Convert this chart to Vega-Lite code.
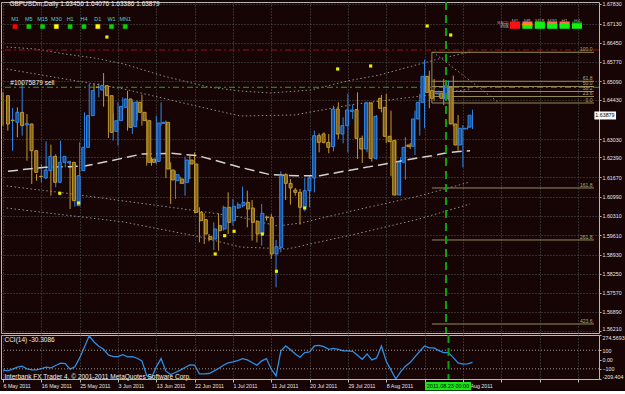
{
"$schema": "https://vega.github.io/schema/vega-lite/v6.json",
"padding": 0,
"background": "#170404",
"spacing": 2,
"bounds": "flush",
"config": {
  "view": {"stroke": "#b8b8b8", "strokeWidth": 1},
  "font": "Liberation Sans, sans-serif",
  "text": {"font": "Liberation Sans, sans-serif", "fontSize": 6.5, "color": "#e6e6e6"}
},
"datasets": {
  "bars": [
    {"i":0,"d":"2011-05-06","o":1.64574,"h":1.64692,"l":1.63508,"c":1.63568,"cci":-114.5},
    {"i":1,"d":"2011-05-08","o":1.63705,"h":1.63804,"l":1.63331,"c":1.63686,"cci":-121.6},
    {"i":2,"d":"2011-05-09","o":1.63627,"h":1.64136,"l":1.6262,"c":1.63982,"cci":-103.8},
    {"i":3,"d":"2011-05-10","o":1.63982,"h":1.6416,"l":1.63094,"c":1.63508,"cci":-82.4},
    {"i":4,"d":"2011-05-11","o":1.63532,"h":1.65048,"l":1.63153,"c":1.63591,"cci":-71.7},
    {"i":5,"d":"2011-05-12","o":1.63568,"h":1.63923,"l":1.62265,"c":1.6262,"cci":-100.2},
    {"i":6,"d":"2011-05-13","o":1.6262,"h":1.63035,"l":1.61437,"c":1.61851,"cci":-110.9},
    {"i":7,"d":"2011-05-15","o":1.6171,"h":1.61792,"l":1.61555,"c":1.61697,"cci":-110.9},
    {"i":8,"d":"2011-05-16","o":1.6165,"h":1.62147,"l":1.61496,"c":1.61934,"cci":-96.7},
    {"i":9,"d":"2011-05-17","o":1.6191,"h":1.62952,"l":1.61614,"c":1.62419,"cci":-82.4},
    {"i":10,"d":"2011-05-18","o":1.62419,"h":1.62834,"l":1.61022,"c":1.61496,"cci":-89.5},
    {"i":11,"d":"2011-05-19","o":1.61496,"h":1.62502,"l":1.61318,"c":1.62206,"cci":-64.6},
    {"i":12,"d":"2011-05-20","o":1.62206,"h":1.62976,"l":1.61579,"c":1.62419,"cci":-39.6},
    {"i":13,"d":"2011-05-22","o":1.62182,"h":1.62241,"l":1.62028,"c":1.6223,"cci":-43.2},
    {"i":14,"d":"2011-05-23","o":1.62206,"h":1.62265,"l":1.60549,"c":1.60845,"cci":-103.8},
    {"i":15,"d":"2011-05-24","o":1.60667,"h":1.6191,"l":1.60631,"c":1.61732,"cci":-78.8},
    {"i":16,"d":"2011-05-25","o":1.6191,"h":1.62916,"l":1.61259,"c":1.62739,"cci":17.4},
    {"i":17,"d":"2011-05-26","o":1.62739,"h":1.63982,"l":1.6268,"c":1.63864,"cci":135.1},
    {"i":18,"d":"2011-05-27","o":1.63864,"h":1.64988,"l":1.63781,"c":1.64752,"cci":255},
    {"i":19,"d":"2011-05-29","o":1.6488,"h":1.65012,"l":1.64728,"c":1.6487,"cci":188.6},
    {"i":20,"d":"2011-05-30","o":1.64775,"h":1.65012,"l":1.64515,"c":1.64929,"cci":142.2},
    {"i":21,"d":"2011-05-31","o":1.64929,"h":1.65379,"l":1.64183,"c":1.64574,"cci":110.1},
    {"i":22,"d":"2011-06-01","o":1.64574,"h":1.6487,"l":1.6307,"c":1.63272,"cci":49.5},
    {"i":23,"d":"2011-06-02","o":1.63307,"h":1.63947,"l":1.62976,"c":1.63686,"cci":31.7},
    {"i":24,"d":"2011-06-03","o":1.63686,"h":1.64337,"l":1.62798,"c":1.64195,"cci":31.7},
    {"i":25,"d":"2011-06-05","o":1.6416,"h":1.64515,"l":1.641,"c":1.64456,"cci":53.1},
    {"i":26,"d":"2011-06-06","o":1.64456,"h":1.64752,"l":1.63331,"c":1.63449,"cci":28.1},
    {"i":27,"d":"2011-06-07","o":1.63473,"h":1.64396,"l":1.63212,"c":1.64337,"cci":31.7},
    {"i":28,"d":"2011-06-08","o":1.64337,"h":1.64396,"l":1.63686,"c":1.63982,"cci":13.9},
    {"i":29,"d":"2011-06-09","o":1.63982,"h":1.6461,"l":1.63508,"c":1.63686,"cci":-14.7},
    {"i":30,"d":"2011-06-10","o":1.63686,"h":1.63745,"l":1.62088,"c":1.62206,"cci":-175.1},
    {"i":31,"d":"2011-06-12","o":1.62324,"h":1.62384,"l":1.62088,"c":1.62206,"cci":-196.5},
    {"i":32,"d":"2011-06-13","o":1.62241,"h":1.63864,"l":1.62147,"c":1.63603,"cci":-78.8},
    {"i":33,"d":"2011-06-14","o":1.63591,"h":1.64337,"l":1.63508,"c":1.63627,"cci":10.3},
    {"i":34,"d":"2011-06-15","o":1.63627,"h":1.63686,"l":1.6165,"c":1.61969,"cci":-125.2},
    {"i":35,"d":"2011-06-16","o":1.61934,"h":1.62206,"l":1.60726,"c":1.61579,"cci":-160.8},
    {"i":36,"d":"2011-06-17","o":1.61555,"h":1.6191,"l":1.60904,"c":1.61768,"cci":-139.4},
    {"i":37,"d":"2011-06-19","o":1.61614,"h":1.61697,"l":1.61437,"c":1.6146,"cci":-114.5},
    {"i":38,"d":"2011-06-20","o":1.61496,"h":1.62407,"l":1.61022,"c":1.62289,"cci":-85.9},
    {"i":39,"d":"2011-06-21","o":1.62289,"h":1.62443,"l":1.61614,"c":1.62147,"cci":-57.4},
    {"i":40,"d":"2011-06-22","o":1.62147,"h":1.62561,"l":1.60395,"c":1.6043,"cci":-61.0},
    {"i":41,"d":"2011-06-23","o":1.6043,"h":1.60608,"l":1.59364,"c":1.60134,"cci":-153.7},
    {"i":42,"d":"2011-06-24","o":1.6017,"h":1.60395,"l":1.59305,"c":1.5966,"cci":-153.7},
    {"i":43,"d":"2011-06-26","o":1.59566,"h":1.5966,"l":1.594,"c":1.59471,"cci":-150.1},
    {"i":44,"d":"2011-06-27","o":1.59483,"h":1.60075,"l":1.59092,"c":1.59838,"cci":-125.2},
    {"i":45,"d":"2011-06-28","o":1.59956,"h":1.60395,"l":1.59068,"c":1.59779,"cci":-96.7},
    {"i":46,"d":"2011-06-29","o":1.59838,"h":1.60667,"l":1.59779,"c":1.60608,"cci":-61.0},
    {"i":47,"d":"2011-06-30","o":1.60608,"h":1.6114,"l":1.5966,"c":1.60075,"cci":-36.0},
    {"i":48,"d":"2011-07-01","o":1.60134,"h":1.60904,"l":1.59956,"c":1.60644,"cci":-25.4},
    {"i":49,"d":"2011-07-03","o":1.60584,"h":1.60785,"l":1.60549,"c":1.60702,"cci":-11.1},
    {"i":50,"d":"2011-07-04","o":1.60667,"h":1.61342,"l":1.60608,"c":1.60785,"cci":10.3},
    {"i":51,"d":"2011-07-05","o":1.60785,"h":1.612,"l":1.59897,"c":1.60549,"cci":-4.0},
    {"i":52,"d":"2011-07-06","o":1.60584,"h":1.60868,"l":1.59424,"c":1.60075,"cci":-32.5},
    {"i":53,"d":"2011-07-07","o":1.6011,"h":1.60134,"l":1.59364,"c":1.5966,"cci":-61.0},
    {"i":54,"d":"2011-07-08","o":1.5966,"h":1.60726,"l":1.59246,"c":1.60395,"cci":-14.7},
    {"i":55,"d":"2011-07-10","o":1.60264,"h":1.60312,"l":1.60134,"c":1.6024,"cci":10.3},
    {"i":56,"d":"2011-07-11","o":1.60252,"h":1.60371,"l":1.58772,"c":1.5895,"cci":-103.8},
    {"i":57,"d":"2011-07-12","o":1.5895,"h":1.59447,"l":1.57766,"c":1.5921,"cci":-175.1},
    {"i":58,"d":"2011-07-13","o":1.59187,"h":1.61886,"l":1.59009,"c":1.61732,"cci":92.3},
    {"i":59,"d":"2011-07-14","o":1.61768,"h":1.61815,"l":1.60868,"c":1.6146,"cci":145.8},
    {"i":60,"d":"2011-07-15","o":1.6146,"h":1.61614,"l":1.60702,"c":1.61294,"cci":106.6},
    {"i":61,"d":"2011-07-17","o":1.61223,"h":1.61294,"l":1.61022,"c":1.6114,"cci":60.2},
    {"i":62,"d":"2011-07-18","o":1.6114,"h":1.61259,"l":1.59992,"c":1.60608,"cci":24.6},
    {"i":63,"d":"2011-07-19","o":1.60608,"h":1.6165,"l":1.60466,"c":1.612,"cci":74.5},
    {"i":64,"d":"2011-07-20","o":1.612,"h":1.6172,"l":1.60608,"c":1.6165,"cci":81.6},
    {"i":65,"d":"2011-07-21","o":1.6165,"h":1.63331,"l":1.6114,"c":1.63153,"cci":145.8},
    {"i":66,"d":"2011-07-22","o":1.63153,"h":1.63236,"l":1.62561,"c":1.62916,"cci":152.9},
    {"i":67,"d":"2011-07-24","o":1.63212,"h":1.63272,"l":1.62881,"c":1.62916,"cci":138.6},
    {"i":68,"d":"2011-07-25","o":1.62916,"h":1.63212,"l":1.62526,"c":1.62739,"cci":110.1},
    {"i":69,"d":"2011-07-26","o":1.62763,"h":1.64219,"l":1.62597,"c":1.641,"cci":120.8},
    {"i":70,"d":"2011-07-27","o":1.641,"h":1.64337,"l":1.63035,"c":1.63212,"cci":110.1},
    {"i":71,"d":"2011-07-28","o":1.63212,"h":1.63804,"l":1.62881,"c":1.63508,"cci":92.3},
    {"i":72,"d":"2011-07-29","o":1.63508,"h":1.64633,"l":1.62561,"c":1.64065,"cci":92.3},
    {"i":73,"d":"2011-07-31","o":1.64018,"h":1.64254,"l":1.63745,"c":1.64065,"cci":88.7},
    {"i":74,"d":"2011-08-01","o":1.64078,"h":1.64693,"l":1.62325,"c":1.63059,"cci":45.9},
    {"i":75,"d":"2011-08-02","o":1.63059,"h":1.63154,"l":1.62183,"c":1.6268,"cci":3.2},
    {"i":76,"d":"2011-08-03","o":1.6268,"h":1.64362,"l":1.62562,"c":1.64314,"cci":60.2},
    {"i":77,"d":"2011-08-04","o":1.64314,"h":1.64338,"l":1.62231,"c":1.62349,"cci":-4.0},
    {"i":78,"d":"2011-08-05","o":1.62349,"h":1.63888,"l":1.62302,"c":1.63841,"cci":17.4},
    {"i":79,"d":"2011-08-07","o":1.6448,"h":1.64598,"l":1.63983,"c":1.64125,"cci":145.8},
    {"i":80,"d":"2011-08-08","o":1.6416,"h":1.64634,"l":1.62893,"c":1.6313,"cci":-18.2},
    {"i":81,"d":"2011-08-09","o":1.6313,"h":1.64042,"l":1.6171,"c":1.62941,"cci":-114.5},
    {"i":82,"d":"2011-08-10","o":1.62976,"h":1.63012,"l":1.61023,"c":1.61047,"cci":-209.4},
    {"i":83,"d":"2011-08-11","o":1.61047,"h":1.62384,"l":1.61023,"c":1.62207,"cci":-132.3},
    {"i":84,"d":"2011-08-12","o":1.62207,"h":1.63095,"l":1.61591,"c":1.6274,"cci":-71.7},
    {"i":85,"d":"2011-08-14","o":1.62822,"h":1.62893,"l":1.6268,"c":1.62763,"cci":-32.5},
    {"i":86,"d":"2011-08-15","o":1.62775,"h":1.64042,"l":1.62467,"c":1.63746,"cci":28.1},
    {"i":87,"d":"2011-08-16","o":1.63746,"h":1.64634,"l":1.63154,"c":1.64338,"cci":88.7},
    {"i":88,"d":"2011-08-17","o":1.64338,"h":1.65854,"l":1.63415,"c":1.65262,"cci":145.8},
    {"i":89,"d":"2011-08-18","o":1.65262,"h":1.65463,"l":1.64125,"c":1.64693,"cci":124.4},
    {"i":90,"d":"2011-08-19","o":1.64752,"h":1.65167,"l":1.64397,"c":1.6448,"cci":124.4},
    {"i":91,"d":"2011-08-21","o":1.6465,"h":1.64752,"l":1.64575,"c":1.6467,"cci":95.9},
    {"i":92,"d":"2011-08-22","o":1.6467,"h":1.65167,"l":1.64243,"c":1.6448,"cci":74.5},
    {"i":93,"d":"2011-08-23","o":1.64456,"h":1.65108,"l":1.64397,"c":1.6493,"cci":74.5},
    {"i":94,"d":"2011-08-24","o":1.64871,"h":1.65285,"l":1.63486,"c":1.63568,"cci":21.0},
    {"i":95,"d":"2011-08-25","o":1.63568,"h":1.63888,"l":1.62621,"c":1.62822,"cci":-36.0},
    {"i":96,"d":"2011-08-26","o":1.62822,"h":1.63533,"l":1.62029,"c":1.63415,"cci":-50.3},
    {"i":97,"d":"2011-08-28","o":1.63391,"h":1.63486,"l":1.63367,"c":1.63415,"cci":-46.7},
    {"i":98,"d":"2011-08-29","o":1.63456,"h":1.64076,"l":1.63386,"c":1.63879,"cci":-30.3086}
  ],
  "ma": [
    {"i":0,"v":1.61892},{"i":7.9,"v":1.6203},{"i":13.2,"v":1.62051},{"i":16.3,"v":1.62076},{"i":20.5,"v":1.62218},{"i":24.6,"v":1.6236},{"i":28.4,"v":1.62502},{"i":34.7,"v":1.62527},{"i":40.3,"v":1.62442},{"i":49.3,"v":1.6203},{"i":55.7,"v":1.61767},{"i":61.4,"v":1.61732},{"i":66.2,"v":1.61732},{"i":72.0,"v":1.61909},{"i":78.9,"v":1.62112},{"i":85.8,"v":1.62325},{"i":90.0,"v":1.62442},{"i":93.5,"v":1.62556},{"i":98.1,"v":1.6262}
  ],
  "env": [
    {"band":"A","i":-0.3,"v":1.66303},{"band":"A","i":5.85,"v":1.66232},{"band":"A","i":12.1,"v":1.66054},{"band":"A","i":18.4,"v":1.65912},{"band":"A","i":24.6,"v":1.65699},{"band":"A","i":33.0,"v":1.65273},{"band":"A","i":42.4,"v":1.64882},{"band":"A","i":49.3,"v":1.6474},{"band":"A","i":55.7,"v":1.64669},{"band":"A","i":64.3,"v":1.64776},{"band":"A","i":72.0,"v":1.65095},{"band":"A","i":78.9,"v":1.65308},{"band":"A","i":85.8,"v":1.65628},{"band":"A","i":91.4,"v":1.65877},{"band":"A","i":98.1,"v":1.66125},
    {"band":"B","i":-0.3,"v":1.65522},{"band":"B","i":12.1,"v":1.65166},{"band":"B","i":24.6,"v":1.64811},{"band":"B","i":37.2,"v":1.64314},{"band":"B","i":49.3,"v":1.63852},{"band":"B","i":60.8,"v":1.63888},{"band":"B","i":73.9,"v":1.64278},{"band":"B","i":89.6,"v":1.64598},{"band":"B","i":98.1,"v":1.64811},
    {"band":"C","i":-0.3,"v":1.61366},{"band":"C","i":12.1,"v":1.61117},{"band":"C","i":24.6,"v":1.60833},{"band":"C","i":37.2,"v":1.60549},{"band":"C","i":49.3,"v":1.60265},{"band":"C","i":57.2,"v":1.59945},{"band":"C","i":62.2,"v":1.60052},{"band":"C","i":73.9,"v":1.60513},{"band":"C","i":87.3,"v":1.61011},{"band":"C","i":98.1,"v":1.61508},
    {"band":"D","i":-0.3,"v":1.60584},{"band":"D","i":12.1,"v":1.60336},{"band":"D","i":24.6,"v":1.60087},{"band":"D","i":40.9,"v":1.59554},{"band":"D","i":49.3,"v":1.59199},{"band":"D","i":59.3,"v":1.59128},{"band":"D","i":73.9,"v":1.59661},{"band":"D","i":87.3,"v":1.60194},{"band":"D","i":98.1,"v":1.60726},
    {"band":"T","i":90.2,"v":1.66125},{"band":"T","i":104,"v":1.64349}
  ],
  "fib": [
    {"lvl":"100.0","v":1.66115},{"lvl":"61.8","v":1.65085},{"lvl":"50.0","v":1.649},{"lvl":"38.2","v":1.64722},{"lvl":"23.6","v":1.64545},{"lvl":"0.0","v":1.64314},{"lvl":"161.8","v":1.61295},{"lvl":"261.8","v":1.59448},{"lvl":"423.6","v":1.56464}
  ],
  "hl": [
    {"name":"order","v":1.64872},{"name":"level","v":1.66197}
  ],
  "sig": [
    {"i":11,"v":1.61107},{"i":15,"v":1.60762},{"i":21,"v":1.66658},{"i":44,"v":1.5895},{"i":46,"v":1.596},{"i":48,"v":1.59757},{"i":54,"v":1.59661},{"i":57,"v":1.58336},{"i":63,"v":1.60584},{"i":70,"v":1.65522},{"i":77,"v":1.65628},{"i":89,"v":1.67049},{"i":94,"v":1.66729}
  ],
  "tf": [
    {"tf":"M1","state":"red"},{"tf":"M5","state":"green"},{"tf":"M15","state":"green"},{"tf":"M30","state":"yellow"},{"tf":"H1","state":"green"},{"tf":"H4","state":"green"},{"tf":"D1","state":"yellow"},{"tf":"W1","state":"green"},{"tf":"MN1","state":"green"}
  ],
  "panel": [
    {"tf":"M1","ind":"MACD","state":"red"},{"tf":"M5","ind":"MACD","state":"salmon"},{"tf":"M15","ind":"MACD","state":"green"},{"tf":"M30","ind":"MACD","state":"salmon"},{"tf":"H1","ind":"MACD","state":"salmon"},{"tf":"H4","ind":"MACD","state":"dkgreen"},
    {"tf":"M1","ind":"STR","state":"red"},{"tf":"M5","ind":"STR","state":"orange"},{"tf":"M15","ind":"STR","state":"green"},{"tf":"M30","ind":"STR","state":"green"},{"tf":"H1","ind":"STR","state":"green"},{"tf":"H4","ind":"STR","state":"green"},
    {"tf":"M1","ind":"EMA","state":"red"},{"tf":"M5","ind":"EMA","state":"green"},{"tf":"M15","ind":"EMA","state":"green"},{"tf":"M30","ind":"EMA","state":"green"},{"tf":"H1","ind":"EMA","state":"green"},{"tf":"H4","ind":"EMA","state":"green"}
  ]
},
"vconcat": [
  {
    "width": 598,
    "height": 331,
    "resolve": {"scale": {"x": "independent", "y": "independent", "fill": "independent", "color": "independent"}},
    "layer": [
      {
        "data": {"name": "bars"},
        "mark": {"type": "rule", "strokeWidth": 1, "clip": true},
        "encoding": {
          "x": {"field": "i", "type": "quantitative", "scale": {"domain": [-0.42, 124.42], "nice": false, "zero": false}, "axis": {"orient": "bottom", "values": [0,8,16,24,32,40,48,56,64,72,80,88,96,104,112,120], "grid": true, "gridColor": "#555555", "gridDash": [1, 2], "domain": false, "labels": false, "ticks": false, "labelPadding": 0, "title": null}},
          "y": {"field": "l", "type": "quantitative", "scale": {"domain": [1.56144, 1.67901], "nice": false, "zero": false}, "axis": {"orient": "right", "values": [1.6783,1.6713,1.6645,1.6577,1.6509,1.6443,1.6303,1.6239,1.6167,1.6099,1.6031,1.5961,1.5893,1.5825,1.5757,1.5689,1.5621], "format": ".5f", "grid": true, "gridColor": "#555555", "gridDash": [1, 2], "domain": false, "tickSize": 2, "tickColor": "#b8b8b8", "labelPadding": 1, "labelFontSize": 5.3, "labelColor": "#e6e6e6", "labelFont": "Liberation Sans, sans-serif", "labelOverlap": false, "labelFlush": false, "labelBaseline": {"expr": "datum.value < 1.563 ? 'bottom' : 'middle'"}, "title": null}},
          "y2": {"field": "h"},
          "color": {"condition": {"test": "datum.c >= datum.o", "value": "#2f88ea"}, "value": "#c39a2e"}
        }
      },
      {
        "layer": [
          {
            "data": {"name": "env"},
            "mark": {"type": "line", "strokeWidth": 1, "strokeDash": [1.5, 2.5], "color": "#8e8e8e", "clip": true},
            "encoding": {
              "x": {"field": "i", "type": "quantitative", "scale": {"domain": [-0.42, 124.42], "nice": false, "zero": false}, "axis": null},
              "y": {"field": "v", "type": "quantitative", "scale": {"domain": [1.56144, 1.67901], "nice": false, "zero": false}, "axis": null},
              "detail": {"field": "band"}
            }
          },
          {
            "data": {"name": "hl"},
            "mark": {"type": "rule", "strokeWidth": 1, "strokeDash": [6, 3, 2, 3], "clip": true},
            "encoding": {
              "y": {"field": "v", "type": "quantitative", "axis": null},
              "color": {"field": "name", "type": "nominal", "scale": {"domain": ["order", "level"], "range": ["#13b013", "#a01212"]}, "legend": null}
            }
          },
          {
            "data": {"name": "ma"},
            "mark": {"type": "line", "strokeWidth": 1.5, "strokeDash": [10, 5], "color": "#d2d2d2", "clip": true},
            "encoding": {
              "x": {"field": "i", "type": "quantitative", "axis": null},
              "y": {"field": "v", "type": "quantitative", "axis": null}
            }
          },
          {
            "data": {"name": "fib"},
            "mark": {"type": "rule", "strokeWidth": 1, "color": "#938d5a", "clip": true},
            "encoding": {
              "x": {"datum": 90, "type": "quantitative", "axis": null},
              "x2": {"datum": 124.42},
              "y": {"field": "v", "type": "quantitative", "axis": null}
            }
          },
          {
            "data": {"name": "fib"},
            "mark": {"type": "text", "align": "right", "baseline": "bottom", "dy": 0, "fontSize": 5, "color": "#b5ae72"},
            "encoding": {
              "x": {"datum": 124.1, "type": "quantitative", "axis": null},
              "y": {"field": "v", "type": "quantitative", "axis": null},
              "text": {"field": "lvl"}
            }
          },
          {
            "data": {"values": [{"a": 1.66115, "b": 1.64314}]},
            "mark": {"type": "rule", "strokeWidth": 1, "color": "#938d5a"},
            "encoding": {
              "x": {"datum": 90, "type": "quantitative", "axis": null},
              "y": {"field": "a", "type": "quantitative", "axis": null},
              "y2": {"field": "b"}
            }
          },
          {
            "data": {"name": "bars"},
            "mark": {"type": "bar", "size": 3, "strokeWidth": 1, "clip": true},
            "encoding": {
              "x": {"field": "i", "type": "quantitative", "axis": null},
              "y": {"field": "o", "type": "quantitative", "axis": null},
              "y2": {"field": "c"},
              "fill": {"condition": {"test": "datum.c >= datum.o", "value": "#1b4f93"}, "value": "#7d611c"},
              "stroke": {"condition": {"test": "datum.c >= datum.o", "value": "#2f88ea"}, "value": "#c39a2e"}
            }
          },
          {
            "data": {"name": "sig"},
            "mark": {"type": "point", "shape": "square", "filled": true, "size": 10, "color": "#eeee00", "opacity": 1},
            "encoding": {
              "x": {"field": "i", "type": "quantitative", "axis": null},
              "y": {"field": "v", "type": "quantitative", "axis": null}
            }
          },
          {
            "data": {"values": [{"d": "2011.08.23"}]},
            "mark": {"type": "rule", "strokeWidth": 2, "strokeDash": [8, 5], "color": "#0ca00c", "clip": true},
            "encoding": {
              "x": {"datum": 93, "type": "quantitative", "axis": null}
            }
          },
          {
            "data": {"values": [{"t": "GBPUSDm,Daily  1.63456 1.64076 1.63386 1.63879"}]},
            "mark": {"type": "text", "align": "left", "baseline": "middle", "fontSize": 6.5, "color": "#f0f0f0"},
            "encoding": {
              "x": {"datum": 0.3, "type": "quantitative", "axis": null},
              "y": {"datum": 1.67815, "type": "quantitative", "axis": null},
              "text": {"field": "t"}
            }
          },
          {
            "data": {"values": [{"t": "#10075879 sell"}]},
            "mark": {"type": "text", "align": "left", "baseline": "middle", "fontSize": 6.5, "color": "#f0f0f0"},
            "encoding": {
              "x": {"datum": 0.5, "type": "quantitative", "axis": null},
              "y": {"datum": 1.6503, "type": "quantitative", "axis": null},
              "text": {"field": "t"}
            }
          },
          {
            "data": {"values": [{"p": 1.63879, "top": 1.64012, "bot": 1.63728}]},
            "mark": {"type": "rect", "color": "#ffffff"},
            "encoding": {
              "x": {"datum": 124.5, "type": "quantitative", "axis": null},
              "x2": {"datum": 129.1},
              "y": {"field": "top", "type": "quantitative", "axis": null},
              "y2": {"field": "bot"}
            }
          },
          {
            "data": {"values": [{"p": 1.63879}]},
            "mark": {"type": "text", "align": "left", "baseline": "middle", "fontSize": 5.3, "color": "#000000"},
            "encoding": {
              "x": {"datum": 124.7, "type": "quantitative", "axis": null},
              "y": {"field": "p", "type": "quantitative", "axis": null},
              "text": {"field": "p", "type": "quantitative", "format": ".5f"}
            }
          }
        ]
      },
      {
        "data": {"name": "tf"},
        "layer": [
          {
            "mark": {"type": "text", "fontSize": 5.5, "color": "#4fcfcf", "baseline": "middle"},
            "encoding": {
              "x": {"field": "tf", "type": "nominal", "scale": {"type": "point", "padding": 0, "domain": ["M1","M5","M15","M30","H1","H4","D1","W1","MN1"], "range": [14, 124.3]}, "axis": null},
              "y": {"datum": "lab", "type": "nominal", "scale": {"type": "point", "padding": 0, "domain": ["lab", "box"], "range": [16.5, 24.5]}, "axis": null},
              "text": {"field": "tf"}
            }
          },
          {
            "mark": {"type": "point", "shape": "square", "filled": true, "size": 26, "opacity": 1, "stroke": "#3a0a0a", "strokeWidth": 0.6},
            "encoding": {
              "x": {"field": "tf", "type": "nominal", "axis": null},
              "y": {"datum": "box", "type": "nominal", "axis": null},
              "fill": {"field": "state", "type": "nominal", "scale": {"domain": ["red", "green", "yellow"], "range": ["#ff0000", "#00d800", "#ffff00"]}, "legend": null}
            }
          }
        ]
      },
      {
        "data": {"name": "panel"},
        "layer": [
          {
            "transform": [{"filter": "datum.ind == 'MACD'"}],
            "mark": {"type": "text", "fontSize": 4.8, "color": "#a89c9c", "baseline": "middle"},
            "encoding": {
              "x": {"field": "tf", "type": "nominal", "scale": {"type": "point", "padding": 0, "domain": ["M1","M5","M15","M30","H1","H4"], "range": [514, 576]}, "axis": null},
              "y": {"datum": "head", "type": "nominal", "scale": {"type": "point", "padding": 0, "domain": ["head", "MACD", "STR", "EMA"], "range": [19.5, 25, 30.5, 36]}, "axis": null},
              "text": {"field": "tf"}
            }
          },
          {
            "transform": [{"filter": "datum.tf == 'M1'"}],
            "mark": {"type": "text", "fontSize": 3.8, "color": "#a89c9c", "baseline": "middle", "align": "right", "dx": -6.5},
            "encoding": {
              "x": {"datum": "M1", "type": "nominal", "axis": null},
              "y": {"field": "ind", "type": "nominal", "axis": null},
              "text": {"field": "ind"}
            }
          },
          {
            "mark": {"type": "point", "shape": "M-1,-0.36H1V0.36H-1Z", "filled": true, "size": 100, "opacity": 1},
            "encoding": {
              "x": {"field": "tf", "type": "nominal", "axis": null},
              "y": {"field": "ind", "type": "nominal", "axis": null},
              "fill": {"field": "state", "type": "nominal", "scale": {"domain": ["red", "salmon", "green", "dkgreen", "orange"], "range": ["#ff1010", "#ff6f52", "#12f012", "#0b780b", "#ff9a00"]}, "legend": null}
            }
          }
        ]
      }
    ]
  },
  {
    "width": 598,
    "height": 44,
    "resolve": {"scale": {"x": "independent", "y": "independent"}},
    "layer": [
      {
        "data": {"name": "bars"},
        "mark": {"type": "line", "strokeWidth": 1.3, "color": "#2d8ee8", "clip": true},
        "encoding": {
          "x": {"field": "i", "type": "quantitative", "scale": {"domain": [-0.42, 124.42], "nice": false, "zero": false}, "axis": {"orient": "bottom", "values": [0,8,16,24,32,40,48,56,64,72,80,88,96,104,112,120], "grid": true, "gridColor": "#555555", "gridDash": [1, 2], "domain": false, "tickSize": 3, "tickColor": "#b8b8b8", "labelPadding": 1, "labelAlign": "left", "labelBaseline": "top", "labelFontSize": 5.3, "labelColor": "#e6e6e6", "labelFont": "Liberation Sans, sans-serif", "labelOverlap": false, "labelFlush": false, "title": null, "labelExpr": "datum.value <= 96 && datum.value != 88 ? ['6 May 2011','16 May 2011','25 May 2011','3 Jun 2011','13 Jun 2011','22 Jun 2011','1 Jul 2011','11 Jul 2011','20 Jul 2011','29 Jul 2011','8 Aug 2011','17 Aug 2011','26 Aug 2011'][datum.value / 8] : ''"}},
          "y": {"field": "cci", "type": "quantitative", "scale": {"domain": [-209.404, 263.8], "nice": false, "zero": false}, "axis": {"orient": "right", "values": [263.8, 100, 0, -100, -209.404], "grid": false, "domain": false, "tickSize": 2, "tickColor": "#b8b8b8", "labelPadding": 1, "labelFontSize": 5.3, "labelColor": "#e6e6e6", "labelFont": "Liberation Sans, sans-serif", "labelOverlap": false, "labelFlush": false, "labelBaseline": {"expr": "datum.value > 200 ? 'top' : datum.value < -200 ? 'bottom' : 'middle'"}, "title": null, "labelExpr": "datum.value > 200 ? '274.5693' : datum.value < -200 ? '-209.404' : datum.value == 0 ? '0.00' : format(datum.value, 'd')"}}
        }
      },
      {
        "layer": [
          {
            "data": {"values": [{"v": 100}, {"v": -100}]},
            "mark": {"type": "rule", "strokeWidth": 1, "strokeDash": [1, 2], "color": "#9a9a9a", "clip": true},
            "encoding": {
              "y": {"field": "v", "type": "quantitative", "scale": {"domain": [-209.404, 263.8], "nice": false, "zero": false}, "axis": null}
            }
          },
          {
            "data": {"values": [{"d": "2011.08.23"}]},
            "mark": {"type": "rule", "strokeWidth": 2, "strokeDash": [8, 5], "color": "#0ca00c", "clip": true},
            "encoding": {
              "x": {"datum": 93, "type": "quantitative", "scale": {"domain": [-0.42, 124.42], "nice": false, "zero": false}, "axis": null}
            }
          },
          {
            "data": {"values": [{"t": "CCI(14) -30.3086"}]},
            "mark": {"type": "text", "align": "left", "baseline": "middle", "fontSize": 6.5, "color": "#f0f0f0"},
            "encoding": {
              "x": {"datum": 0.3, "type": "quantitative", "axis": null},
              "y": {"datum": 206, "type": "quantitative", "axis": null},
              "text": {"field": "t"}
            }
          },
          {
            "data": {"values": [{"t": "Interbank FX Trader 4, © 2001-2011 MetaQuotes Software Corp."}]},
            "mark": {"type": "text", "align": "left", "baseline": "middle", "fontSize": 6.5, "color": "#f0f0f0"},
            "encoding": {
              "x": {"datum": 0.3, "type": "quantitative", "axis": null},
              "y": {"datum": -192, "type": "quantitative", "axis": null},
              "text": {"field": "t"}
            }
          },
          {
            "data": {"values": [{"t": "2011.08.23 00:00"}]},
            "mark": {"type": "rect", "color": "#19e619"},
            "encoding": {
              "x": {"datum": 88.1, "type": "quantitative", "axis": null},
              "x2": {"datum": 97.7},
              "y": {"datum": -241, "type": "quantitative", "axis": null},
              "y2": {"datum": -330}
            }
          },
          {
            "data": {"values": [{"t": "2011.08.23 00:00"}]},
            "mark": {"type": "text", "align": "center", "baseline": "middle", "fontSize": 5.5, "color": "#000000"},
            "encoding": {
              "x": {"datum": 92.9, "type": "quantitative", "axis": null},
              "y": {"datum": -286, "type": "quantitative", "axis": null},
              "text": {"field": "t"}
            }
          }
        ]
      }
    ]
  }
]
}
